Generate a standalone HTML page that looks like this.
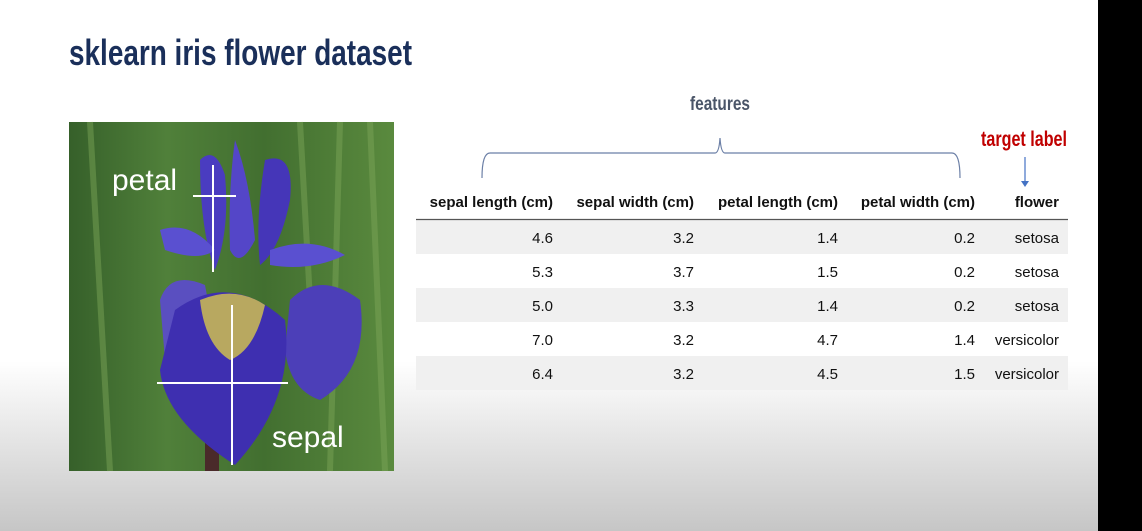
<!DOCTYPE html>
<html><head><meta charset="utf-8"><style>
html,body{margin:0;padding:0;width:1142px;height:531px;overflow:hidden;background:#fff}
svg{display:block;font-family:"Liberation Sans",Arial,sans-serif}
</style></head><body>
<svg width="1142" height="531" viewBox="0 0 1142 531">
<defs>
<linearGradient id="bg" x1="0" y1="0" x2="0" y2="1">
<stop offset="0" stop-color="#ffffff"/><stop offset="0.68" stop-color="#ffffff"/><stop offset="1" stop-color="#c6c6c6"/>
</linearGradient>
<linearGradient id="grass" x1="0" y1="0" x2="1" y2="0">
<stop offset="0" stop-color="#36602a"/><stop offset="0.3" stop-color="#50803a"/><stop offset="0.6" stop-color="#426f30"/><stop offset="1" stop-color="#5a8a3e"/>
</linearGradient>
</defs>
<rect width="1142" height="531" fill="url(#bg)"/>
<rect x="1098" y="0" width="44" height="531" fill="#000"/>
<text x="69" y="65" font-size="36" font-weight="bold" fill="#1a2f5a" textLength="343" lengthAdjust="spacingAndGlyphs">sklearn iris flower dataset</text>

<g>
<rect x="69" y="122" width="325" height="349" fill="url(#grass)"/>
<g stroke="#7fa85a" stroke-width="6" opacity="0.45"><line x1="90" y1="122" x2="110" y2="471"/><line x1="340" y1="122" x2="330" y2="471"/><line x1="370" y1="122" x2="385" y2="471"/><line x1="300" y1="122" x2="310" y2="300"/></g>
<rect x="205" y="400" width="14" height="71" fill="#4a2a2a"/>
<path d="M160 300 Q170 270 205 285 Q215 330 200 370 Q175 380 165 360 Z" fill="#5a4fc0"/>
<path d="M290 300 Q320 270 360 300 Q370 370 320 400 Q290 390 285 350 Z" fill="#4c3fb8"/>
<path d="M175 310 Q230 270 285 320 Q295 400 235 465 Q165 420 160 370 Z" fill="#3e2fb0"/>
<path d="M200 300 Q235 285 265 305 Q255 350 230 360 Q205 345 200 300 Z" fill="#b8a860"/>
<path d="M200 160 Q215 145 225 175 Q230 230 215 270 Q200 230 200 160 Z" fill="#4a3cc0"/>
<path d="M235 140 Q250 180 255 240 Q240 270 230 250 Q228 190 235 140 Z" fill="#5446c8"/>
<path d="M265 160 Q295 150 290 200 Q280 250 260 265 Q255 220 265 160 Z" fill="#4536b8"/>
<path d="M160 230 Q190 220 215 250 Q200 262 165 250 Z" fill="#5a50d0"/>
<path d="M270 250 Q310 235 345 255 Q310 272 270 265 Z" fill="#5a50d0"/>
<g stroke="#fff" stroke-width="2" fill="none">
<line x1="213" y1="165" x2="213" y2="272"/><line x1="193" y1="196" x2="236" y2="196"/>
<line x1="232" y1="305" x2="232" y2="465"/><line x1="157" y1="383" x2="288" y2="383"/>
</g>
<text x="112" y="190" font-size="30" fill="#fff">petal</text>
<text x="272" y="447" font-size="30" fill="#fff">sepal</text>
</g>

<text x="720" y="110" font-size="19" font-weight="bold" fill="#4a5568" text-anchor="middle" textLength="60" lengthAdjust="spacingAndGlyphs">features</text>
<path d="M482 178 Q482 153 490 153 L715 153 Q719 153 720 138 Q721 153 725 153 L952 153 Q960 153 960 178" fill="none" stroke="#6b7fa6" stroke-width="1.2"/>
<text x="1024" y="146" font-size="21" font-weight="bold" fill="#c00000" text-anchor="middle" textLength="86" lengthAdjust="spacingAndGlyphs">target label</text>
<line x1="1025" y1="157" x2="1025" y2="182" stroke="#4472c4" stroke-width="1.2"/>
<path d="M1021 181 L1029 181 L1025 187 Z" fill="#4472c4"/>

<g id="tbl"></g>
</svg>
<script>
const headers=["sepal length (cm)","sepal width (cm)","petal length (cm)","petal width (cm)","flower"];
const sepalLength=["4.6","5.3","5.0","7.0","6.4"];
const sepalWidth=["3.2","3.7","3.3","3.2","3.2"];
const petalLength=["1.4","1.5","1.4","4.7","4.5"];
const petalWidth=["0.2","0.2","0.2","1.4","1.5"];
const flower=["setosa","setosa","setosa","versicolor","versicolor"];
const NS="http://www.w3.org/2000/svg";
const g=document.getElementById('tbl');
const rights=[553,694,838,975,1059];
function t(x,y,s,bold,name){const e=document.createElementNS(NS,'text');
e.setAttribute('x',x);e.setAttribute('y',y);e.setAttribute('text-anchor','end');
e.setAttribute('font-size','15');e.setAttribute('fill','#111');if(bold)e.setAttribute('font-weight','bold');


e.textContent=s;g.appendChild(e);}
headers.forEach((h,i)=>t(rights[i],207,h,true,'column-header'));
const ln=document.createElementNS(NS,'line');
ln.setAttribute('x1',416);ln.setAttribute('x2',1068);ln.setAttribute('y1',219.5);ln.setAttribute('y2',219.5);
ln.setAttribute('stroke','#555');ln.setAttribute('stroke-width','1.2');


g.appendChild(ln);
const cols=[sepalLength,sepalWidth,petalLength,petalWidth,flower];
for(let r=0;r<flower.length;r++){
const y0=220+r*34;
if(r%2===0){const rc=document.createElementNS(NS,'rect');
rc.setAttribute('x',416);rc.setAttribute('y',y0);rc.setAttribute('width',652);rc.setAttribute('height',34);rc.setAttribute('fill','#f0f0f0');


g.insertBefore(rc,g.firstChild);}
cols.forEach((c,i)=>t(rights[i],y0+23,c[r],false,'table-cell'));
}
</script>
</body></html>
